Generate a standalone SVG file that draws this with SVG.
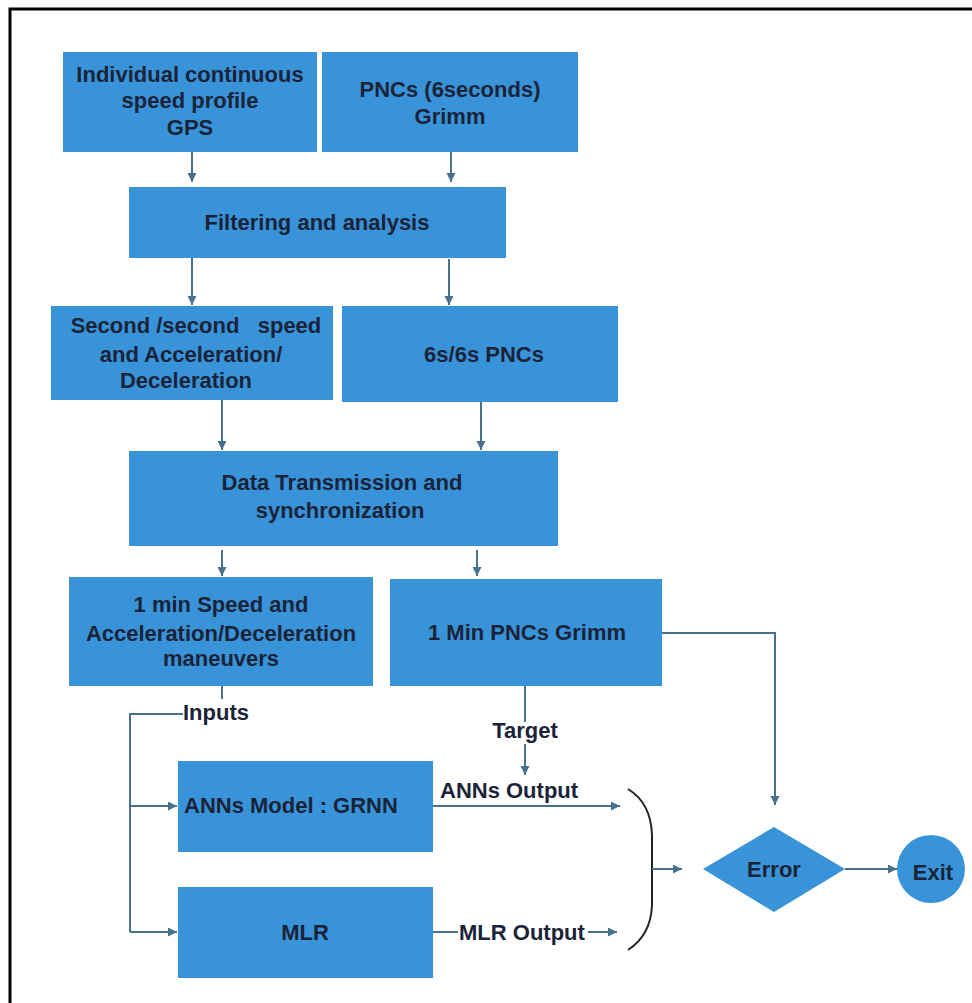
<svg xmlns="http://www.w3.org/2000/svg" width="972" height="1003" viewBox="0 0 972 1003">
  <defs>
    <style>
      .box { fill: #3893d8; }
      .lbl { font-family: "Liberation Sans", Arial, sans-serif; font-weight: bold; font-size: 22px; fill: #1b2338; text-anchor: middle; }
      .lbl-start { text-anchor: start; }
      .edge { fill: none; stroke: #46728f; stroke-width: 2; }
      .brace { fill: none; stroke: #222; stroke-width: 2; }
    </style>
    <marker id="arrow" markerUnits="userSpaceOnUse" markerWidth="10" markerHeight="10" refX="9" refY="4.5" orient="auto">
      <path d="M0,0 L9,4.5 L0,9 z" fill="#46728f"/>
    </marker>
  </defs>

  <rect width="972" height="1003" fill="#fff"/>
  <!-- frame -->
  <rect x="10" y="9" width="975" height="1010" fill="none" stroke="#000" stroke-width="3"/>

  <!-- nodes -->
  <g id="gps-profile">
    <rect class="box" x="63" y="52" width="254" height="100"/>
    <text class="lbl" x="190" y="82">Individual continuous</text>
    <text class="lbl" x="190" y="108">speed profile</text>
    <text class="lbl" x="190" y="135">GPS</text>
  </g>
  <g id="pncs-grimm">
    <rect class="box" x="322" y="52" width="256" height="100"/>
    <text class="lbl" x="450" y="97">PNCs (6seconds)</text>
    <text class="lbl" x="450" y="124">Grimm</text>
  </g>
  <g id="filtering">
    <rect class="box" x="129" y="187" width="377" height="71"/>
    <text class="lbl" x="317" y="230">Filtering and analysis</text>
  </g>
  <g id="second-speed">
    <rect class="box" x="51" y="306" width="282" height="94"/>
    <text class="lbl" x="196" y="333" xml:space="preserve">Second /second   speed</text>
    <text class="lbl" x="191" y="362">and Acceleration/</text>
    <text class="lbl" x="186" y="388">Deceleration</text>
  </g>
  <g id="pncs-6s">
    <rect class="box" x="342" y="306" width="276" height="96"/>
    <text class="lbl" x="484" y="362">6s/6s PNCs</text>
  </g>
  <g id="sync">
    <rect class="box" x="129" y="451" width="429" height="95"/>
    <text class="lbl" x="342" y="490">Data Transmission and</text>
    <text class="lbl" x="340" y="518">synchronization</text>
  </g>
  <g id="speed-1min">
    <rect class="box" x="69" y="577" width="304" height="109"/>
    <text class="lbl" x="221" y="612">1 min Speed and</text>
    <text class="lbl" x="221" y="641">Acceleration/Deceleration</text>
    <text class="lbl" x="221" y="666">maneuvers</text>
  </g>
  <g id="pncs-1min">
    <rect class="box" x="390" y="579" width="272" height="107"/>
    <text class="lbl" x="527" y="640">1 Min PNCs Grimm</text>
  </g>
  <g id="ann-model">
    <rect class="box" x="178" y="761" width="255" height="91"/>
    <text class="lbl lbl-start" x="184" y="813">ANNs Model : GRNN</text>
  </g>
  <g id="mlr">
    <rect class="box" x="178" y="887" width="255" height="91"/>
    <text class="lbl" x="305" y="940">MLR</text>
  </g>
  <g id="error">
    <polygon class="box" points="703,869 774,827 845,869 774,912"/>
    <text class="lbl" x="774" y="877">Error</text>
  </g>
  <g id="exit">
    <circle class="box" cx="931" cy="869" r="34"/>
    <text class="lbl" x="933" y="880">Exit</text>
  </g>

  <!-- connectors -->
  <g id="connectors">
    <line class="edge" x1="192" y1="152" x2="192" y2="182" marker-end="url(#arrow)"/>
    <line class="edge" x1="451" y1="152" x2="451" y2="182" marker-end="url(#arrow)"/>
    <line class="edge" x1="192" y1="258" x2="192" y2="305" marker-end="url(#arrow)"/>
    <line class="edge" x1="449" y1="259" x2="449" y2="305" marker-end="url(#arrow)"/>
    <line class="edge" x1="222" y1="400" x2="222" y2="450" marker-end="url(#arrow)"/>
    <line class="edge" x1="481" y1="402" x2="481" y2="450" marker-end="url(#arrow)"/>
    <line class="edge" x1="222" y1="550" x2="222" y2="576" marker-end="url(#arrow)"/>
    <line class="edge" x1="477" y1="550" x2="477" y2="576" marker-end="url(#arrow)"/>

    <!-- inputs fan-out -->
    <line class="edge" x1="222" y1="686" x2="222" y2="699"/>
    <path class="edge" d="M183,714 H130 V932"/>
    <line class="edge" x1="130" y1="806" x2="177" y2="806" marker-end="url(#arrow)"/>
    <line class="edge" x1="130" y1="932" x2="177" y2="932" marker-end="url(#arrow)"/>

    <!-- target -->
    <line class="edge" x1="525" y1="686" x2="525" y2="722"/>
    <line class="edge" x1="525" y1="744" x2="525" y2="775" marker-end="url(#arrow)"/>

    <!-- model outputs -->
    <line class="edge" x1="433" y1="806" x2="620" y2="806" marker-end="url(#arrow)"/>
    <line class="edge" x1="433" y1="932" x2="458" y2="932"/>
    <line class="edge" x1="588" y1="932" x2="617" y2="932" marker-end="url(#arrow)"/>
    <path class="brace" d="M628,789 Q651,803 652,835 V905 Q651,935 628,950"/>
    <line class="edge" x1="652" y1="869" x2="682" y2="869" marker-end="url(#arrow)"/>

    <!-- error path -->
    <path class="edge" d="M662,633 H775 V805" marker-end="url(#arrow)"/>
    <line class="edge" x1="845" y1="869" x2="897" y2="869" marker-end="url(#arrow)"/>

    <text class="lbl lbl-start" x="183" y="720">Inputs</text>
    <text class="lbl" x="525" y="738" font-size="20">Target</text>
    <text class="lbl lbl-start" x="440" y="798">ANNs Output</text>
    <text class="lbl lbl-start" x="459" y="940">MLR Output</text>
  </g>
</svg>
